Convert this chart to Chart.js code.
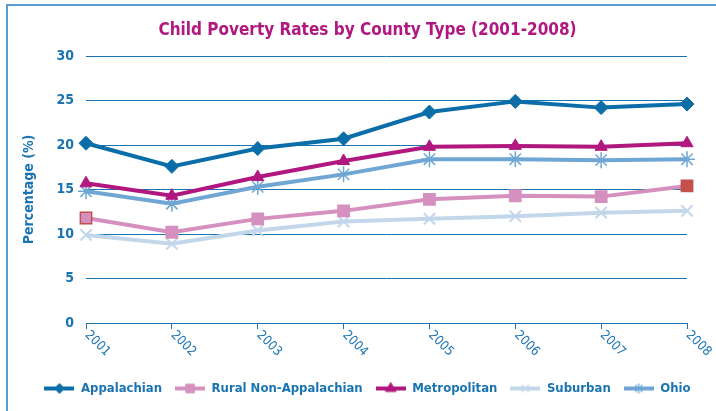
<!DOCTYPE html>
<html>
<head>
<meta charset="utf-8">
<script src="https://cdn.jsdelivr.net/npm/chart.js@4"></script>
<style>
    html, body { margin: 0; padding: 0; background: #fff; }
    #wrap { width: 716px; height: 411px; }
</style>
</head>
<body>
<div id="wrap"><canvas id="chart1" width="716" height="411"></canvas></div>
<script>
const chart1div = document.getElementById("chart1")

const years = ["2001", "2002", "2003", "2004", "2005", "2006", "2007", "2008"]
const appalachian = [20.2, 17.6, 19.6, 20.7, 23.7, 24.9, 24.2, 24.6]
const ruralNonApp = [11.8, 10.2, 11.7, 12.6, 13.9, 14.3, 14.2, 15.4]
const metropolitan = [15.7, 14.3, 16.4, 18.2, 19.8, 19.9, 19.8, 20.2]
const suburban = [9.9, 8.9, 10.4, 11.4, 11.7, 12.0, 12.4, 12.6]
const ohio = [14.8, 13.4, 15.3, 16.7, 18.4, 18.4, 18.3, 18.4]

const FONT = "'Liberation Sans Narrow', 'DejaVu Sans Condensed', 'Liberation Sans', sans-serif"
const BLUE = "#1a74b2"
const pink = "#d590c0"
const red = "#c4504e"

// legend swatch: short line with the marker in the middle
function swatch(color, style, radius, borderWidth) {
    const c = document.createElement("canvas")
    c.width = 30
    c.height = 14
    const ctx = c.getContext("2d")
    ctx.strokeStyle = color
    ctx.lineWidth = 4
    ctx.beginPath()
    ctx.moveTo(0, 7)
    ctx.lineTo(30, 7)
    ctx.stroke()
    ctx.fillStyle = color
    ctx.strokeStyle = color
    ctx.lineWidth = borderWidth
    Chart.helpers.drawPoint(ctx, { pointStyle: style, radius: radius, rotation: 0, borderWidth: borderWidth }, 15, 7)
    return c
}

const frame = {
    id: "frame",
    afterLayout(chart) {
        // title and legend sit a bit right of the plot centre in the original
        chart.titleBlock.left += 20
        chart.titleBlock.right += 20
        chart.legend.left += 20
        chart.legend.right += 20
    },
    beforeDraw(chart) {
        const ctx = chart.ctx
        ctx.save()
        ctx.strokeStyle = "#5a9ccf"
        ctx.lineWidth = 2
        ctx.beginPath()
        ctx.moveTo(716, 5)
        ctx.lineTo(7, 5)
        ctx.lineTo(7, 411)
        ctx.stroke()
        ctx.restore()
    },
    afterDraw(chart) {
        // slanted year labels running down to the right
        const ctx = chart.ctx
        const xs = chart.scales.x
        ctx.save()
        ctx.fillStyle = BLUE
        ctx.font = "13px " + FONT
        ctx.textAlign = "left"
        ctx.textBaseline = "middle"
        years.forEach((y, i) => {
            ctx.save()
            ctx.translate(xs.getPixelForValue(i) + 1, chart.chartArea.bottom + 10)
            ctx.rotate(Math.PI / 4)
            ctx.fillText(y, 0, 0)
            ctx.restore()
        })
        ctx.restore()
    }
}

const sw = [
    swatch("#0b6ea9", "rectRot", 5, 1),
    swatch(pink, "rect", 6, 1),
    swatch("#b0187f", "triangle", 6, 1),
    swatch("#c3d7eb", "crossRot", 5, 1.5),
    swatch("#6fa6d3", "star", 5, 1.2)
]

new Chart(chart1div, {
    type: "line",
    data: {
        labels: years,
        datasets: [
            {
                label: "Appalachian",
                data: appalachian,
                borderColor: "#0b6ea9",
                backgroundColor: "#0b6ea9",
                borderWidth: 4,
                pointStyle: "rectRot",
                pointRadius: 7,
                pointBorderWidth: 1
            },
            {
                label: "Rural Non-Appalachian",
                data: ruralNonApp,
                borderColor: pink,
                backgroundColor: pink,
                borderWidth: 4,
                pointStyle: "rect",
                pointRadius: 8,
                pointBackgroundColor: [pink, pink, pink, pink, pink, pink, pink, red],
                pointBorderColor: [red, pink, pink, pink, pink, pink, pink, red],
                pointBorderWidth: 1.5
            },
            {
                label: "Metropolitan",
                data: metropolitan,
                borderColor: "#b0187f",
                backgroundColor: "#b0187f",
                borderWidth: 4,
                pointStyle: "triangle",
                pointRadius: 7,
                pointBorderWidth: 1
            },
            {
                label: "Suburban",
                data: suburban,
                borderColor: "#c3d7eb",
                backgroundColor: "#c3d7eb",
                borderWidth: 4,
                pointStyle: "crossRot",
                pointRadius: 8,
                pointBorderWidth: 2
            },
            {
                label: "Ohio",
                data: ohio,
                borderColor: "#6fa6d3",
                backgroundColor: "#6fa6d3",
                borderWidth: 4,
                pointStyle: "star",
                pointRadius: 8,
                pointBorderWidth: 1.5
            }
        ]
    },
    options: {
        responsive: false,
        animation: false,
        layout: { padding: { left: 8, right: 29, top: 6, bottom: 6 } },
        elements: { line: { tension: 0 } },
        plugins: {
            title: {
                display: true,
                text: "Child Poverty Rates by County Type (2001-2008)",
                color: "#b0187f",
                font: { family: FONT, size: 17, weight: "bold" },
                padding: { top: 14, bottom: 15.6 }
            },
            legend: {
                position: "bottom",
                labels: {
                    usePointStyle: true,
                    pointStyleWidth: 30,
                    padding: 13,
                    color: BLUE,
                    font: { family: FONT, size: 13, weight: "bold" },
                    generateLabels(chart) {
                        const items = Chart.defaults.plugins.legend.labels.generateLabels(chart)
                        items.forEach((it, i) => { it.pointStyle = sw[i] })
                        return items
                    }
                }
            },
            tooltip: { enabled: false }
        },
        scales: {
            x: {
                offset: false,
                grid: { display: true, drawOnChartArea: false, drawTicks: true, tickLength: 6, color: BLUE, lineWidth: 1 },
                border: { display: true, color: BLUE, width: 1 },
                ticks: { display: false },
                afterFit(s) { s.height = 46 }
            },
            y: {
                min: 0,
                max: 30,
                ticks: {
                    stepSize: 5,
                    padding: 12,
                    color: BLUE,
                    font: { family: FONT, size: 14, weight: "bold" }
                },
                grid: { color: BLUE, lineWidth: 1, drawTicks: false },
                border: { display: false },
                title: {
                    display: true,
                    text: "Percentage (%)",
                    color: BLUE,
                    font: { family: FONT, size: 14, weight: "bold" },
                    padding: { top: 13, bottom: 4 }
                },
                afterFit(s) { s.width = 78 }
            }
        }
    },
    plugins: [frame]
});
</script>
</body>
</html>
